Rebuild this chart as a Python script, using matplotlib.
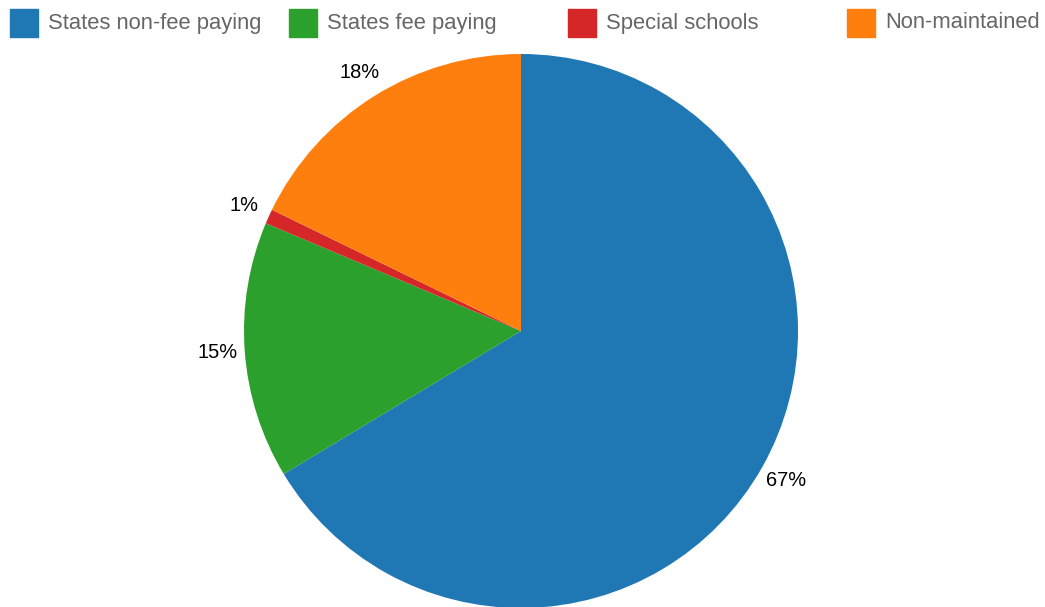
import matplotlib
matplotlib.use('Agg')
import matplotlib.pyplot as plt
from matplotlib.patches import Rectangle

plt.rcParams['font.family'] = ['Liberation Sans', 'DejaVu Sans']

categories = ['States non-fee paying', 'States fee paying', 'Special schools', 'Non-maintained']
shares = [66.4, 15.0, 0.85, 17.8]
pct_labels = ['67%', '15%', '1%', '18%']
colors = ['#1f77b4', '#2ca02c', '#d62728', '#ff7f0e']

W, H = 1045, 607
fig = plt.figure(figsize=(W / 100, H / 100), dpi=100)

# pie: center (521, 331) px from top-left, radius 277 px
cx, cy, r = 521, 331, 277
ax = fig.add_axes([(cx - r) / W, (H - cy - r) / H, 2 * r / W, 2 * r / H])
wedges, texts = ax.pie(shares, colors=colors, startangle=90, counterclock=False,
                       labels=pct_labels, labeldistance=1.1, radius=1,
                       textprops={'fontsize': 14.4, 'color': 'black'},
                       wedgeprops={'linewidth': 0})
for t in texts:
    t.set_ha('center')
    t.set_va('center')
ax.set_xlim(-1, 1)
ax.set_ylim(-1, 1)
ax.set_aspect('equal')
ax.axis('off')

# legend across the top
for i, (name, col) in enumerate(zip(categories, colors)):
    x0 = 10 + i * 279
    fig.patches.append(Rectangle((x0 / W, 1 - 37 / H), 28 / W, 28 / H,
                                 transform=fig.transFigure, color=col))
    fig.text((x0 + 38) / W, 1 - 23 / H, name, fontsize=15.8, color='#666666',
             va='center', ha='left')

fig.savefig('out.png', dpi=100)
